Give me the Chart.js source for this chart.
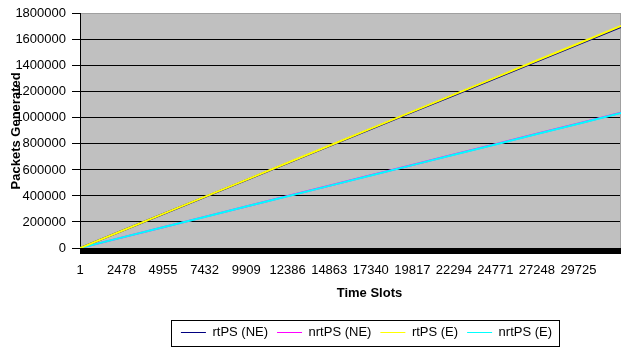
<!DOCTYPE html>
<html>
<head>
<meta charset="utf-8">
<script src="https://cdn.jsdelivr.net/npm/chart.js@4"></script>
<style>
  html, body { margin: 0; padding: 0; background: #fff; }
  canvas { display: block; }
</style>
</head>
<body>
<canvas id="myChart" width="623" height="349"></canvas>
<script>
// Chart data
const timeSlots = [1, 2478, 4955, 7432, 9909, 12386, 14863, 17340, 19817, 22294, 24771, 27248, 29725, 32262];
const xTickLabels = [1, 2478, 4955, 7432, 9909, 12386, 14863, 17340, 19817, 22294, 24771, 27248, 29725];
const rtPsNE  = [0, 130500, 261000, 391400, 521900, 652400, 782900, 913300, 1043800, 1174300, 1304800, 1435200, 1565700, 1699000];
const nrtPsNE = [0, 79800, 159600, 239400, 319200, 399000, 478800, 558600, 638400, 718200, 798000, 877800, 957600, 1039000];
const rtPsE   = [0, 131000, 262000, 393000, 524000, 655000, 786000, 917000, 1048000, 1179000, 1310000, 1441000, 1572000, 1706000];
const nrtPsE  = [0, 79600, 159200, 238800, 318400, 398000, 477700, 557300, 636900, 716500, 796100, 875700, 955300, 1037000];
const yMax = 1800000;
const yStep = 200000;

const FONT = "'Liberation Sans', Arial, sans-serif";

function toPoints(values) {
  return values.map((v, i) => ({ x: timeSlots[i], y: v }));
}

// Gray plot area, black band under the x axis, titles and legend frame
const decorPlugin = {
  id: 'decor',
  afterLayout(chart) {
    // legend sits right of the canvas centre in the original
    const lg = chart.legend;
    lg.left += 56;
    lg.right += 56;
  },
  beforeDraw(chart) {
    const { ctx, chartArea: a } = chart;
    ctx.save();
    ctx.fillStyle = '#c0c0c0';
    ctx.fillRect(a.left, a.top, a.right - a.left, a.bottom - a.top);
    ctx.restore();
  },
  beforeDatasetsDraw(chart) {
    const { ctx, chartArea: a } = chart;
    ctx.save();
    ctx.strokeStyle = '#a0a0a0';
    ctx.lineWidth = 1;
    ctx.beginPath();
    ctx.moveTo(a.right - 0.5, a.top);
    ctx.lineTo(a.right - 0.5, a.bottom);
    ctx.stroke();
    ctx.restore();
  },
  afterDraw(chart) {
    const { ctx, chartArea: a } = chart;
    ctx.save();
    // thick black band at the bottom of the plot
    ctx.fillStyle = '#000';
    ctx.fillRect(a.left, a.bottom, a.right - a.left, 6);

    // axis titles
    ctx.font = 'bold 13px ' + FONT;
    ctx.textAlign = 'center';
    ctx.textBaseline = 'middle';
    ctx.fillText('Time Slots', a.left + (a.right - a.left) * 0.535, 293);
    ctx.translate(16, (a.top + a.bottom) / 2);
    ctx.rotate(-Math.PI / 2);
    ctx.fillText('Packets Generated', 0, 0);
    ctx.restore();

    // legend frame
    const hb = chart.legend.legendHitBoxes;
    if (hb && hb.length) {
      const first = hb[0], last = hb[hb.length - 1];
      const left = first.left - 10;
      const right = last.left + last.width + 7;
      const top = first.top - 6;
      const bottom = first.top + first.height + 7;
      ctx.save();
      ctx.strokeStyle = '#000';
      ctx.lineWidth = 1;
      ctx.strokeRect(Math.round(left) + 0.5, Math.round(top) + 0.5, Math.round(right - left), Math.round(bottom - top));
      ctx.restore();
    }
  }
};

const ctx = document.getElementById('myChart');
const myChart = new Chart(ctx, {
  type: 'line',
  data: {
    datasets: [
      { label: 'rtPS (NE)',  data: toPoints(rtPsNE),  borderColor: '#000080', backgroundColor: '#000080', order: 2 },
      { label: 'nrtPS (NE)', data: toPoints(nrtPsNE), borderColor: '#ff00ff', backgroundColor: '#ff00ff', order: 2 },
      { label: 'rtPS (E)',   data: toPoints(rtPsE),   borderColor: '#ffff00', backgroundColor: '#ffff00', order: 1 },
      { label: 'nrtPS (E)',  data: toPoints(nrtPsE),  borderColor: '#00ffff', backgroundColor: '#00ffff', order: 1 }
    ]
  },
  options: {
    responsive: false,
    animation: false,
    elements: {
      point: { radius: 0 },
      line: { borderWidth: 2, tension: 0 }
    },
    layout: { padding: { top: 12, right: 2, left: 0, bottom: 0 } },
    scales: {
      x: {
        type: 'linear',
        min: 1,
        max: 32262,
        grid: { display: false, drawTicks: false },
        border: { display: false },
        afterBuildTicks: scale => { scale.ticks = xTickLabels.map(v => ({ value: v })); },
        afterFit: scale => { scale.height = 69; },
        ticks: {
          autoSkip: false,
          maxRotation: 0,
          padding: 15,
          color: '#000',
          font: { family: FONT, size: 13 },
          callback: v => String(v)
        }
      },
      y: {
        min: 0,
        max: yMax,
        afterFit: scale => { scale.width = 80; },
        grid: {
          color: c => (c.tick && c.tick.value === yMax) ? '#a0a0a0' : '#000',
          tickColor: '#000',
          tickLength: 8,
          lineWidth: 1
        },
        border: { display: true, color: '#000', width: 1 },
        ticks: {
          stepSize: yStep,
          padding: 6,
          color: '#000',
          font: { family: FONT, size: 13 },
          callback: v => String(v)
        }
      }
    },
    plugins: {
      tooltip: { enabled: false },
      legend: {
        position: 'bottom',
        labels: {
          usePointStyle: true,
          pointStyle: 'line',
          pointStyleWidth: 25,
          padding: 9,
          color: '#000',
          font: { family: FONT, size: 13 },
          sort: (a, b) => a.datasetIndex - b.datasetIndex,
          generateLabels: chart => {
            const items = Chart.defaults.plugins.legend.labels.generateLabels(chart);
            items.forEach(it => { it.lineWidth = 1; it.pointStyle = 'line'; });
            return items;
          }
        }
      }
    }
  },
  plugins: [decorPlugin]
});
</script>
</body>
</html>
